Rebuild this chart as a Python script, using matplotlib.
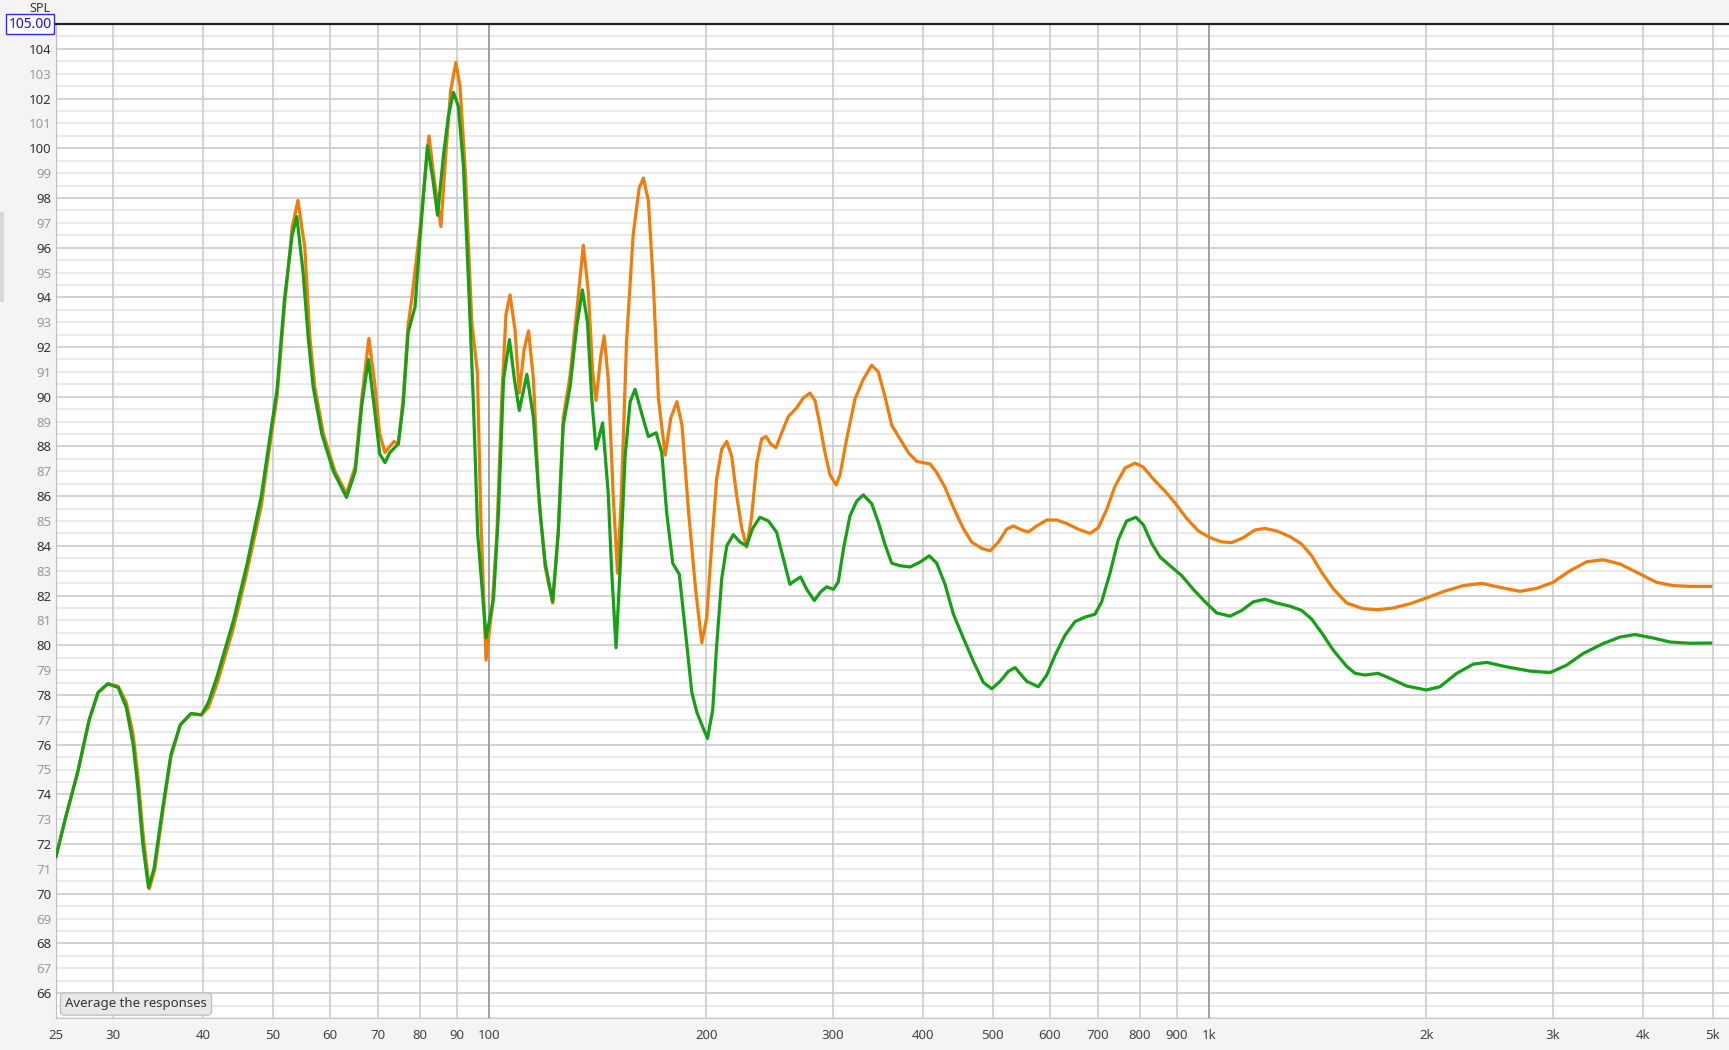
import matplotlib
matplotlib.use("Agg")
import matplotlib.pyplot as plt
from matplotlib.patches import Rectangle

plt.rcParams['font.family'] = ['Noto Sans', 'DejaVu Sans']

# green trace (frequency Hz, SPL dB)
green_f = [25.0, 25.8, 26.8, 27.8, 28.6, 29.5, 30.5, 31.3, 32.0, 32.5, 33.0, 33.6, 34.2, 35.1, 36.1,
           37.2, 38.5, 39.8, 40.7, 41.9, 44.1, 46.0, 48.2, 49.8, 50.7, 51.9, 53.2, 54.0, 55.1, 56.0,
           56.9, 58.5, 60.7, 63.3, 65.1, 66.5, 67.9, 69.3, 70.4, 71.6, 72.7, 74.7, 75.9, 77.1, 78.8,
           80.1, 82.0, 83.4, 84.7, 86.3, 87.7, 89.1, 90.5, 92.0, 93.4, 95.0, 96.3, 98.9, 101.3, 102.9,
           104.6, 106.6, 108.3, 110.0, 112.7, 115.1, 117.6, 119.5, 122.4, 124.6, 126.6, 129.4, 132.2,
           134.6, 136.8, 138.7, 140.6, 143.6, 146.2, 147.8, 149.9, 151.8, 154.3, 156.8, 159.3, 162.8,
           166.2, 170.4, 173.5, 176.3, 179.7, 183.5, 186.9, 191.0, 194.1, 197.2, 200.8, 204.2, 206.8,
           210.2, 213.6, 218.1, 222.9, 227.5, 232.0, 237.5, 244.0, 250.5, 255.9, 261.4, 265.5, 270.5,
           275.8, 282.6, 288.4, 294.0, 300.4, 305.1, 310.3, 316.7, 323.6, 330.5, 339.5, 346.8, 354.3,
           362.0, 371.8, 383.9, 396.5, 408.2, 418.0, 429.3, 440.9, 455.0, 470.0, 485.3, 498.5, 512.0,
           525.6, 537.0, 557.3, 578.5, 594.3, 610.3, 630.0, 650.4, 671.5, 693.4, 708.4, 727.5, 747.0,
           767.2, 790.6, 809.2, 831.3, 853.8, 881.5, 915.1, 949.6, 985.8, 1023.5, 1068, 1108.7, 1150.8,
           1194.3, 1239.7, 1293.8, 1343, 1386.6, 1431.7, 1485.8, 1551, 1593, 1644, 1715, 1781, 1879,
           2000, 2090, 2205, 2325, 2427, 2587, 2788, 2972, 3134, 3305, 3523, 3717, 3900, 4136, 4361,
           4651, 4967]
green_db = [71.5, 73.1, 74.9, 77.0, 78.1, 78.45, 78.3, 77.5, 76.0, 74.2, 72.0, 70.25, 71.0, 73.3, 75.6,
            76.8, 77.25, 77.2, 77.7, 78.8, 81.0, 83.2, 86.0, 88.8, 90.3, 93.9, 96.5, 97.25, 95.0, 92.4,
            90.4, 88.5, 87.0, 85.95, 87.0, 89.7, 91.5, 89.4, 87.7, 87.35, 87.75, 88.1, 89.7, 92.6, 93.6,
            96.4, 100.1, 98.8, 97.3, 99.7, 101.3, 102.25, 101.7, 99.3, 95.0, 89.7, 84.5, 80.3, 81.85, 85.3,
            90.7, 92.3, 90.7, 89.45, 90.9, 89.15, 85.3, 83.3, 81.75, 84.5, 88.85, 90.4, 92.85,
            94.3, 93.0, 89.9, 87.9, 88.95, 86.1, 83.0, 79.9, 83.0, 87.6, 89.8, 90.3, 89.3,
            88.4, 88.55, 87.75, 85.3, 83.3, 82.85, 80.7, 78.1, 77.3, 76.8, 76.25, 77.4, 80.0,
            82.7, 84.0, 84.45, 84.15, 84.0, 84.7, 85.15, 85.0, 84.55, 83.5, 82.45, 82.6, 82.75,
            82.25, 81.8, 82.15, 82.35, 82.25, 82.55, 83.9, 85.2, 85.8, 86.05, 85.7, 84.95, 84.05,
            83.3, 83.2, 83.15, 83.35, 83.6, 83.3, 82.45, 81.25, 80.3, 79.35, 78.5, 78.25, 78.55,
            78.95, 79.1, 78.55, 78.33, 78.8, 79.6, 80.4, 80.95, 81.13, 81.25, 81.75, 82.9, 84.25,
            85.0, 85.15, 84.85, 84.1, 83.55, 83.2, 82.8, 82.25, 81.75, 81.3, 81.17, 81.4, 81.75,
            81.85, 81.7, 81.57, 81.4, 81.05, 80.5, 79.8, 79.15, 78.87, 78.8, 78.87, 78.67, 78.36,
            78.2, 78.33, 78.87, 79.24, 79.31, 79.13, 78.96, 78.9, 79.2, 79.67, 80.07, 80.33, 80.43, 80.29, 80.13,
            80.08, 80.09]

# orange trace (frequency Hz, SPL dB)
orange_f = [25.0, 25.8, 26.8, 27.8, 28.6, 29.5, 30.5, 31.3, 32.0, 32.5, 33.0, 33.7, 34.3, 35.1, 36.1,
            37.2, 38.5, 39.8, 40.7, 41.9, 44.1, 46.0, 48.2, 49.8, 50.7, 51.9, 53.2, 54.2, 55.4, 56.3,
            57.2, 58.8, 61.0, 63.3, 65.1, 66.5, 68.0, 69.3, 70.4, 71.6, 72.7, 73.7, 74.7, 75.9, 77.1,
            78.0, 80.1, 82.4, 83.6, 85.6, 87.0, 88.3, 89.8, 91.0, 92.6, 94.5, 96.2, 97.3, 98.9, 100.8,
            102.4, 104.0, 105.4, 106.8, 108.5, 110.0, 111.7, 113.3, 115.1, 117.0, 119.5, 122.4, 124.6,
            126.6, 129.4, 132.2, 135.0, 137.2, 139.1, 140.6, 142.7, 144.3, 146.2, 148.5, 150.6, 152.5,
            155.0, 158.3, 161.4, 163.6, 166.2, 168.9, 171.7, 175.4, 178.6, 182.1, 185.1, 189.1, 193.4,
            197.2, 200.3, 203.5, 206.8, 210.2, 213.6, 217.0, 220.5, 224.1, 227.7, 231.3, 235.1, 238.8,
            242.2, 245.8, 250.0, 254.6, 260.0, 267.0, 272.8, 278.7, 283.2, 287.8, 292.4, 297.2, 303.0,
            306.8, 313.4, 321.8, 330.5, 339.5, 346.8, 354.3, 362.0, 371.8, 381.8, 392.1, 399.6, 409.1,
            418.0, 429.3, 440.9, 455.0, 467.5, 482.8, 495.8, 509.2, 522.8, 534.1, 548.6, 560.3, 575.6,
            594.3, 613.6, 633.4, 657.4, 682.6, 700.8, 720.0, 739.3, 763.3, 788.0, 809.2, 835.5, 867.4,
            895.6, 929.8, 965.0, 1001.7, 1039.8, 1073.7, 1114.3, 1156.7, 1194.3, 1239.7, 1293.8, 1343,
            1386.6, 1431.7, 1485.8, 1550.8, 1635, 1715, 1800, 1899, 2000, 2113, 2252, 2388, 2532, 2700,
            2848, 3000, 3168, 3342, 3523, 3717, 3962, 4180, 4409, 4651, 4967]
orange_db = [71.5, 73.1, 74.9, 77.0, 78.1, 78.45, 78.35, 77.7, 76.4, 74.7, 72.5, 70.2, 71.0, 73.1, 75.5,
             76.8, 77.25, 77.2, 77.5, 78.5, 80.7, 82.9, 85.6, 88.5, 90.0, 93.6, 96.8, 97.9, 96.0, 92.4,
             90.4, 88.5, 87.0, 86.1, 87.2, 90.0, 92.35, 90.5, 88.5, 87.75, 88.0, 88.2, 88.1, 90.0, 92.9,
             93.95, 96.8, 100.5, 99.0, 96.85, 99.8, 102.3, 103.45, 102.5, 99.0, 93.0, 91.0, 85.0, 79.4, 81.45,
             84.5, 89.9, 93.3, 94.1, 92.7, 90.15, 91.9, 92.65, 90.7, 86.1, 83.15, 81.7, 84.6,
             89.15, 90.85, 93.45, 96.1, 94.2, 91.0, 89.85, 91.6, 92.45, 90.7, 86.1, 82.9, 86.1,
             92.2, 96.5, 98.4, 98.8, 97.9, 94.5, 89.9, 87.65, 89.15, 89.8, 88.85, 85.3, 82.2,
             80.1, 81.1, 84.0, 86.7, 87.9, 88.2, 87.6, 86.0, 84.7, 83.95, 85.2, 87.35, 88.3,
             88.4, 88.1, 87.95, 88.55, 89.2, 89.55, 89.95, 90.15, 89.85, 88.85, 87.75, 86.85, 86.45,
             86.85, 88.3, 89.9, 90.7, 91.27, 91.0, 90.0, 88.85, 88.3, 87.75, 87.4, 87.35, 87.3,
             86.95, 86.35, 85.55, 84.7, 84.15, 83.9, 83.8, 84.15, 84.67, 84.8, 84.64, 84.56, 84.8,
             85.04, 85.04, 84.9, 84.67, 84.5, 84.73, 85.47, 86.4, 87.13, 87.33, 87.17, 86.69, 86.2,
             85.73, 85.1, 84.6, 84.33, 84.16, 84.13, 84.33, 84.64, 84.7, 84.6, 84.37, 84.07,
             83.6, 82.93, 82.27, 81.7, 81.47, 81.43, 81.5, 81.67, 81.9, 82.16, 82.4, 82.49, 82.33, 82.17,
             82.29, 82.53, 83.0, 83.36, 83.44, 83.27, 82.87, 82.53, 82.4, 82.37, 82.37]

x_ticks = [25, 30, 40, 50, 60, 70, 80, 90, 100, 200, 300, 400, 500, 600, 700, 800, 900,
           1000, 2000, 3000, 4000, 5000]
x_labels = ['25', '30', '40', '50', '60', '70', '80', '90', '100', '200', '300', '400', '500',
            '600', '700', '800', '900', '1k', '2k', '3k', '4k', '5k']
y_ticks = list(range(66, 105))

W, H = 1729, 1050
fig = plt.figure(figsize=(W / 100, H / 100), dpi=100, facecolor='#f4f4f4')
ax = fig.add_axes([56 / W, 1 - 1018 / H, 1 - 56 / W, (1018 - 24) / H])
ax.set_facecolor('white')

ax.set_xscale('log')
ax.set_xlim(25, 5267)
ax.set_ylim(65, 105)

# horizontal grid: every 0.5 dB, darker on even dB
for i in range(130, 210):
    v = i / 2
    if v % 2 == 0:
        ax.axhline(v, color='#cbcbcb', lw=1.2, zorder=0)
    else:
        ax.axhline(v, color='#e6e6e6', lw=1.2, zorder=0)
# vertical grid
for f in x_ticks[1:]:
    if f in (100, 1000):
        ax.axvline(f, color='#999999', lw=1.3, zorder=0)
    else:
        ax.axvline(f, color='#cccccc', lw=1.2, zorder=0)

ax.plot(orange_f, orange_db, color='#f07d0a', lw=2.3, solid_joinstyle='round', zorder=3)
ax.plot(green_f, green_db, color='#15a015', lw=2.3, solid_joinstyle='round', zorder=4)

ax.set_xticks(x_ticks)
ax.set_xticklabels(x_labels)
ax.xaxis.set_minor_locator(matplotlib.ticker.NullLocator())
ax.set_yticks(y_ticks)
ax.set_yticklabels([str(v) for v in y_ticks])
ax.tick_params(axis='both', length=0, labelsize=9.5)
ax.tick_params(axis='x', pad=8, labelcolor='#444444')
ax.tick_params(axis='y', pad=3)
for lab, v in zip(ax.get_yticklabels(), y_ticks):
    lab.set_color('#333333' if v % 2 == 0 else '#9a9a9a')

ax.spines['right'].set_visible(False)
ax.spines['top'].set_color('#222222')
ax.spines['top'].set_linewidth(1.6)
ax.spines['left'].set_color('#bdbdbd')
ax.spines['bottom'].set_color('#c8c8c8')

fig.text(40 / W, 1 - 8 / H, 'SPL', ha='center', va='center', fontsize=9, color='#333333')
fig.text(30 / W, 1 - 24 / H, '105.00', ha='center', va='center', fontsize=10, color='#1010ee',
         bbox=dict(boxstyle='square,pad=0.15', facecolor='white', edgecolor='#2a2aff', lw=1))
fig.text(136 / W, 1 - 1004 / H, 'Average the responses', ha='center', va='center', fontsize=9.5,
         color='#333333',
         bbox=dict(boxstyle='round,pad=0.35,rounding_size=0.3', facecolor='#e8e8e8',
                   edgecolor='#c0c0c0', lw=1))
fig.patches.append(Rectangle((0, 1 - 302 / H), 4 / W, 90 / H, transform=fig.transFigure,
                             facecolor='#d8d8d8', edgecolor='none'))

plt.savefig('out.png', dpi=100, facecolor=fig.get_facecolor())
